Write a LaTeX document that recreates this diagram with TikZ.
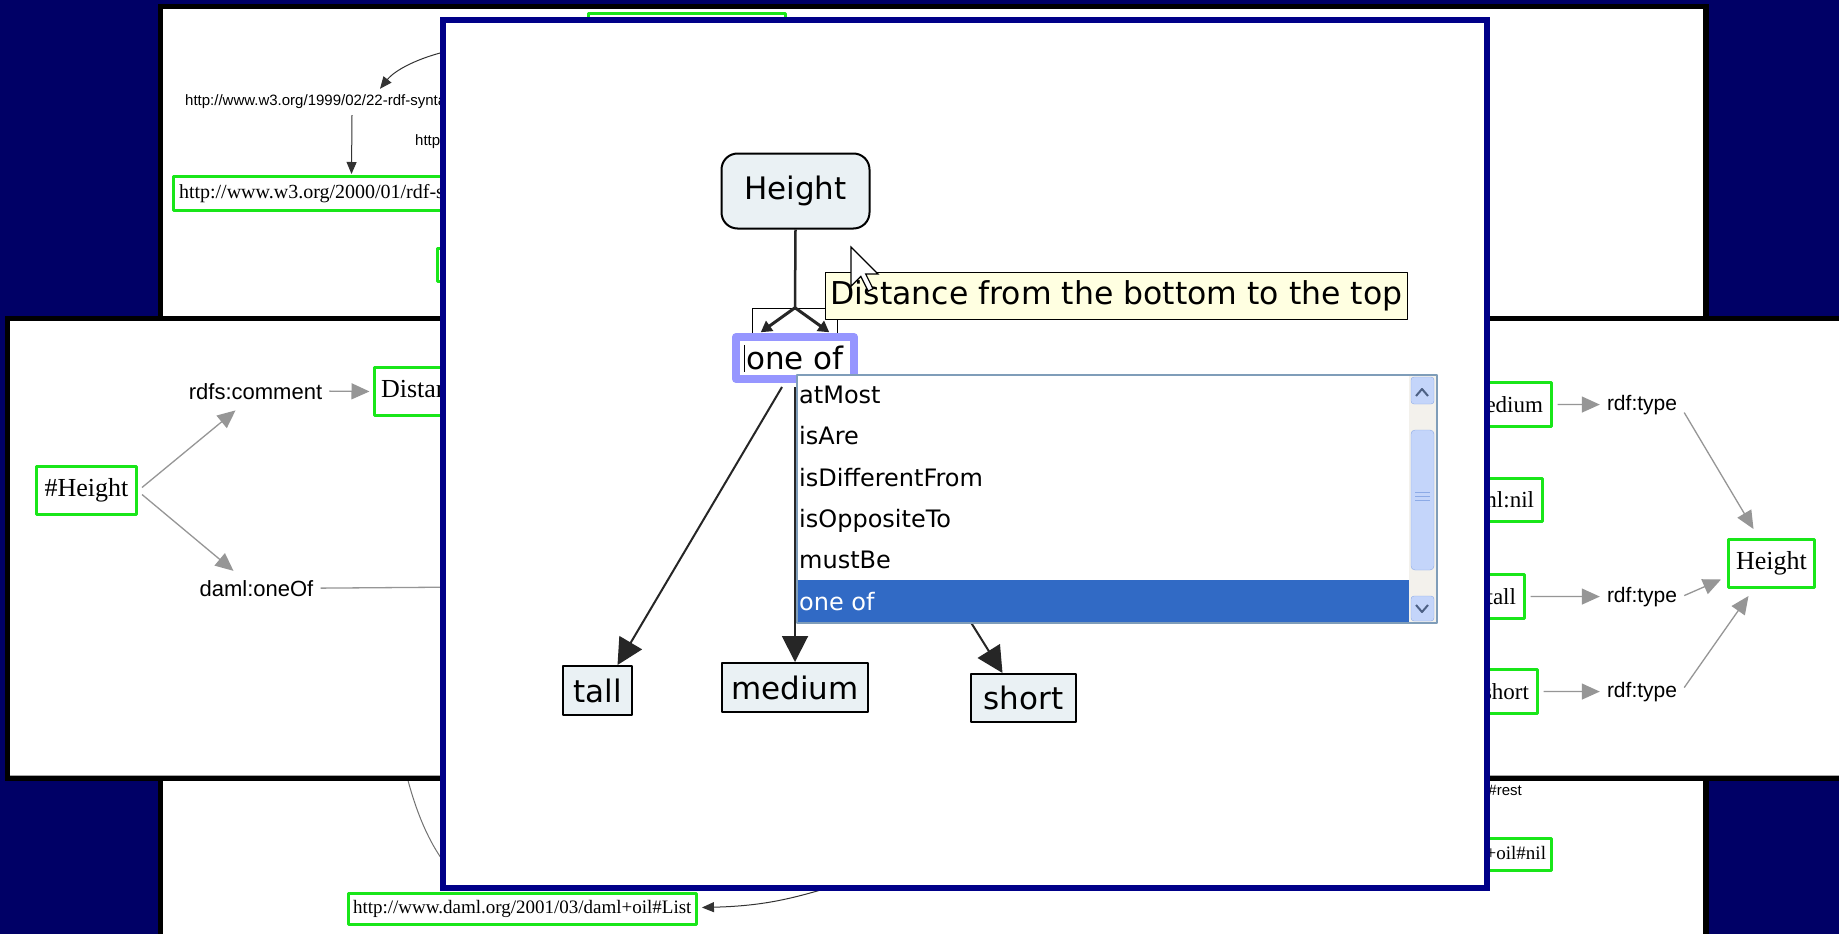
\documentclass[tikz,border=0pt]{standalone}
\usepackage{fontspec}
\newfontfamily\uifont{DejaVu Sans}
\newfontfamily\rdfserif{Liberation Serif}
\newfontfamily\rdfsans{Liberation Sans}
\usetikzlibrary{arrows.meta,calc}

\newcommand\setfs[1]{\fontsize{#1}{#1}\selectfont}

\definecolor{deskblue}{RGB}{0,0,102}
\definecolor{winframe}{RGB}{0,0,136}
\definecolor{rdfgreen}{RGB}{25,230,25}
\definecolor{edgegrey}{RGB}{150,150,150}
\definecolor{nodefill}{RGB}{234,241,244}
\definecolor{tipfill}{RGB}{255,255,225}
\definecolor{focusring}{RGB}{150,150,255}
\definecolor{listborder}{RGB}{127,157,185}
\definecolor{selblue}{RGB}{49,106,197}
\definecolor{scrolltrack}{RGB}{243,241,236}
\definecolor{scrollthumb}{RGB}{196,213,250}
\definecolor{scrolledge}{RGB}{140,170,230}
\definecolor{scrollglyph}{RGB}{77,97,133}

\tikzset{
  rdfbox/.style={draw=rdfgreen, line width=3pt, fill=white, inner xsep=7pt, inner ysep=0pt,
                 font=\rdfserif\setfs{26}},
  valuebox/.style={rdfbox, anchor=east, minimum height=44, inner xsep=8pt, font=\rdfserif\setfs{23}},
  rdflabel/.style={font=\rdfsans\setfs{22}, inner sep=1pt, anchor=base},
  rdfedge/.style={draw=edgegrey, line width=1.3pt, -{Triangle[length=18pt,width=16pt]}},
  tinylabel/.style={font=\rdfsans\setfs{15}, inner sep=1pt},
  tinyedge/.style={draw=black!80, line width=1pt, -{Triangle[length=12pt,width=10pt]}},
  concept/.style={draw=black, line width=2pt, fill=nodefill, font=\uifont\setfs{31}, inner sep=0pt},
  link/.style={draw=black!85, line width=2pt, -{Triangle[length=26pt,width=26pt]}},
  hublink/.style={draw=black!85, line width=3pt, -{Triangle[length=11pt,width=12pt]}},
  listitem/.style={font=\uifont\setfs{24}, anchor=base west, inner sep=0pt},
}

\begin{document}
\begin{tikzpicture}[x=1pt, y=-1pt, line join=round]
\useasboundingbox (0,0) rectangle (1839,934);
\fill[deskblue] (0,0) rectangle (1839,934);

% ---------------- back window: full RDF graph ----------------
\fill[black] (158,4) rectangle (1709,934);
\fill[white] (163,9) rectangle (1703,934);

\node[draw=rdfgreen, line width=3pt, minimum width=197, minimum height=40] (topBox) at (686.5,34) {};
\node[tinylabel, anchor=west] (typeUri) at (184,102) {http://www.w3.org/1999/02/22-rdf-syntax-ns\#type};
\node[rdfbox, anchor=west, font=\rdfserif\setfs{20}, minimum height=34, inner xsep=6pt] (classBox)
     at (171.5,193.5) {http://www.w3.org/2000/01/rdf-schema\#Class};
\node[tinylabel, anchor=west] (subLbl) at (414,142) {http://www.w3.org/2000/01/rdf-schema\#subClassOf};
\node[draw=rdfgreen, line width=3pt, anchor=north west, minimum width=120, minimum height=33] (sideBox)
     at (435.5,246.5) {};

\coordinate (upSrc) at (448,51);
\draw[tinyedge] (upSrc) .. controls (418,58) and (395,70) .. ($(typeUri.north west)+(196,-5)$);
\draw[tinyedge] ($(typeUri.south west)+(168,5)$) -- ($(classBox.north west)+(180,-1)$);

\coordinate (curveTop) at (403,760);
\coordinate (curveEnd) at (452,872);
\draw[black!55, line width=1pt] (curveTop) .. controls (413,805) and (428,845) .. (curveEnd);

\node[rdfbox, font=\rdfserif\setfs{19}, minimum height=31, inner xsep=5pt, anchor=west] (listBox)
     at (346.5,908.5) {http://www.daml.org/2001/03/daml+oil\#List};
\coordinate (listSrc) at (840,884);
\draw[tinyedge] (listSrc) .. controls (790,900) and (760,906) .. ($(listBox.east)+(4,-1)$);

\node[tinylabel, anchor=east] (restLbl) at (1523,792) {http://www.daml.org/2001/03/daml+oil\#rest};
\node[rdfbox, font=\rdfserif\setfs{19}, minimum height=32, inner xsep=5pt, anchor=east] (nilBox)
     at (1552.5,854.5) {http://www.daml.org/2001/03/daml+oil\#nil};

% ---------------- middle window: triples around #Height ----------------
\fill[black] (5,316) rectangle (1839,781);
\fill[white] (10,321) rectangle (1839,776);
\draw[black!35, line width=1pt] (10,775.5) -- (1839,775.5);

\node[rdfbox, minimum width=100, minimum height=48] (hashH) at (86.5,490.5) {\#Height};
\node[rdflabel] (rdfsc) at (255.5,399) {rdfs:comment};
\node[rdfbox, anchor=west, minimum height=48] (dist) at (372.5,391.5) {Distance from the bottom to the top};
\node[rdflabel] (oneOfLbl) at (256.5,596) {daml:oneOf};
\coordinate (oneOfEnd) at (470,587);

\draw[rdfedge] ($(hashH.east)+(4,-3)$) -- ($(rdfsc.south)+(-20,10)$);
\draw[rdfedge] ($(hashH.east)+(4,4)$) -- ($(oneOfLbl.north)+(-23,-8)$);
\draw[rdfedge, shorten >=3pt] ($(rdfsc.east)+(6,0)$) -- (dist.west);
\draw[edgegrey, line width=1.3pt] ($(oneOfLbl.east)+(6,0)$) -- (oneOfEnd);

\node[valuebox] (medR) at (1552.5,404.5) {medium};
\node[valuebox, minimum height=43] (nilR) at (1543.5,500) {daml:nil};
\node[valuebox] (tallR) at (1525.5,596.5) {tall};
\node[valuebox] (shortR) at (1538.5,691.5) {short};
\node[rdfbox, minimum width=86, minimum height=48] (heightR) at (1771.5,563.5) {Height};
\node[rdflabel, font=\rdfsans\setfs{21}] (typeA) at (1642,410) {rdf:type};
\node[rdflabel, font=\rdfsans\setfs{21}] (typeB) at (1642,602) {rdf:type};
\node[rdflabel, font=\rdfsans\setfs{21}] (typeC) at (1642,697) {rdf:type};

\draw[rdfedge] ($(medR.east)+(5,0)$) -- ($(typeA.west)+(-6,0)$);
\draw[rdfedge] ($(tallR.east)+(5,0)$) -- ($(typeB.west)+(-6,0)$);
\draw[rdfedge] ($(shortR.east)+(5,0)$) -- ($(typeC.west)+(-6,0)$);
\draw[rdfedge] ($(typeA.east)+(6,8)$) -- ($(heightR.north)+(-18,-9)$);
\draw[rdfedge] ($(typeB.east)+(6,-1)$) -- ($(heightR.west)+(-6,16)$);
\draw[rdfedge] ($(typeC.east)+(6,-4)$) -- ($(heightR.south)+(-23,7)$);

% ---------------- front window: concept editor ----------------
\fill[winframe] (440,17) rectangle (1490,891);
\fill[white] (446,23) rectangle (1484,885);

\node[concept, rounded corners=16pt, minimum width=148, minimum height=75] (heightC) at (795.5,191) {Height};
\node[draw=black, line width=1.5pt, fill=white, minimum width=85, minimum height=28, inner sep=0pt] (hub)
     at (795,322.5) {};
\draw[black!85, line width=2.5pt] (heightC.south) -- (hub.north);
\draw[hublink] (hub.north) -- ($(hub.south west)+(9,-5)$);
\draw[hublink] (hub.north) -- ($(hub.south east)+(-9,-5)$);

\node[draw=focusring, line width=8pt, fill=white, minimum width=118, minimum height=42, inner sep=0pt,
      font=\uifont\setfs{31}] (oneOf) at (795,358) {one of};
\draw[black, line width=1pt] ($(oneOf.center)+(-51,-13)$) -- ++(0,27);

\node[concept, minimum width=69, minimum height=49] (tallC) at (597.5,690.5) {tall};
\node[concept, minimum width=146, minimum height=49] (mediumC) at (795,687.5) {medium};
\node[concept, minimum width=105, minimum height=48] (shortC) at (1023.5,698) {short};

\draw[link] ($(oneOf.south)+(-13,4)$) -- ($(tallC.north)+(20,0)$);
\draw[link] ($(oneOf.south)+(0,4)$) -- (mediumC.north);
\draw[link] ($(oneOf.south)+(29,4)$) -- ($(shortC.north)+(-21,0)$);

% drop-down list of relations
\draw[listborder, line width=1.5pt, fill=white] (797,375) rectangle (1437,623);
\fill[selblue] (798,580) rectangle (1409,622);
\fill[scrolltrack] (1409,376) rectangle (1436,622);
\draw[scrolledge, fill=scrollthumb, rounded corners=3pt] (1411,377) rectangle (1434,404);
\draw[scrollglyph, line width=2pt] (1416,396) -- (1422,389) -- (1428,396);
\draw[scrolledge, fill=scrollthumb, rounded corners=4pt] (1411,430) rectangle (1434,570);
\foreach \gy in {492,496,500} \draw[scrolledge, line width=1pt] (1415,\gy) -- (1430,\gy);
\draw[scrolledge, fill=scrollthumb, rounded corners=3pt] (1411,596) rectangle (1434,621);
\draw[scrollglyph, line width=2pt] (1416,605) -- (1422,612) -- (1428,605);

\node[listitem] (itA) at (799,403) {atMost};
\node[listitem] (itB) at (799,444) {isAre};
\node[listitem] (itC) at (799,486) {isDifferentFrom};
\node[listitem] (itD) at (799,527) {isOppositeTo};
\node[listitem] (itE) at (799,568) {mustBe};
\node[listitem, text=white] (itF) at (799,610) {one of};

% tooltip and mouse pointer
\node[draw=black, line width=1.5pt, fill=tipfill, minimum width=582, minimum height=47, inner sep=0pt,
      font=\uifont\setfs{31.5}] (tip) at (1116.5,296) {Distance from the bottom to the top};
\draw[black, line width=1.2pt, fill=white, line join=miter, shift={(851,247)}]
  (0,0) -- (0,39.2) -- (9.8,29.4) -- (17.2,44.1) -- (22,41.7) -- (14.7,27) -- (27,27) -- cycle;
\end{tikzpicture}
\end{document}
